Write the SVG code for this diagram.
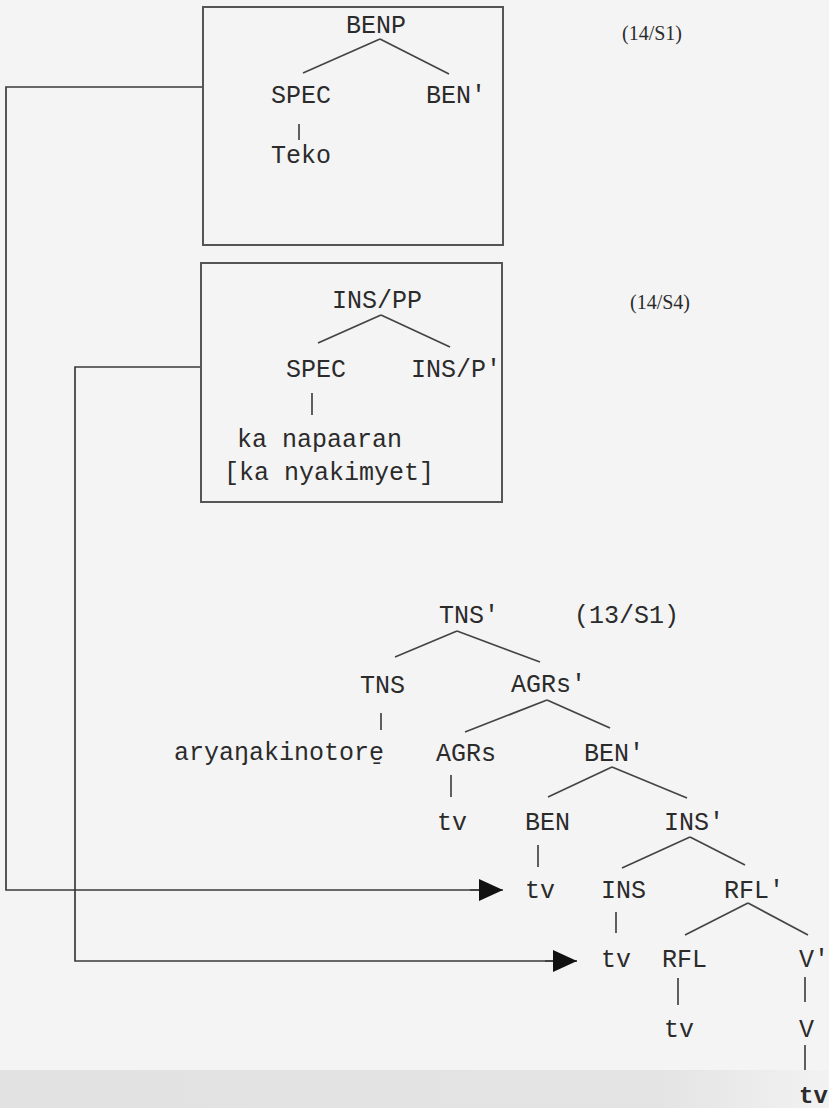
<svg xmlns="http://www.w3.org/2000/svg" width="829" height="1108" viewBox="0 0 829 1108">
<defs>
<style>
.t{font-family:"Liberation Mono","DejaVu Sans Mono",monospace;font-size:25px;fill:#2b2b2b}
.r{font-family:"Liberation Serif","DejaVu Serif",serif;font-size:20px;fill:#2b2b2b}
.box{fill:none;stroke:#555;stroke-width:2}
.ln{fill:none;stroke:#444;stroke-width:1.7}
.cn{fill:none;stroke:#3a3a3a;stroke-width:1.7}
</style>
<marker id="ah" markerUnits="userSpaceOnUse" markerWidth="24" markerHeight="22" refX="24" refY="11" orient="auto">
<path d="M0,0 L24,11 L0,22 Z" fill="#111"/>
</marker>
<linearGradient id="band" x1="0" y1="0" x2="1" y2="0">
<stop offset="0" stop-color="#e2e2e2"/>
<stop offset="0.8" stop-color="#e4e4e4"/>
<stop offset="1" stop-color="#f2f2f2"/>
</linearGradient>
</defs>
<rect x="0" y="0" width="829" height="1108" fill="#f4f4f4"/>
<rect x="0" y="1070" width="829" height="38" fill="url(#band)"/>

<g id="connectors">
<polyline class="cn" points="203,87 6,87 6,890 479,890"/>
<line class="cn" x1="470" y1="890" x2="503" y2="890" marker-end="url(#ah)"/>
<polyline class="cn" points="201,367 75,367 75,961 553,961"/>
<line class="cn" x1="545" y1="961" x2="577" y2="961" marker-end="url(#ah)"/>
</g>

<g id="benp-box">
<rect class="box" x="203" y="7" width="300" height="238"/>
<text class="t" x="346" y="33">BENP</text>
<line class="ln" x1="380" y1="39" x2="303" y2="73"/>
<line class="ln" x1="380" y1="39" x2="449" y2="74"/>
<text class="t" x="271" y="103">SPEC</text>
<text class="t" x="426" y="103">BEN'</text>
<line class="ln" x1="299" y1="124" x2="299" y2="140"/>
<text class="t" x="271" y="163">Teko</text>
</g>
<g id="label-14-s1"><text class="r" x="622" y="40">(14/S1)</text></g>

<g id="inspp-box">
<rect class="box" x="201" y="263" width="301" height="239"/>
<text class="t" x="332" y="308">INS/PP</text>
<line class="ln" x1="381" y1="315" x2="318" y2="343"/>
<line class="ln" x1="381" y1="315" x2="450" y2="347"/>
<text class="t" x="286" y="377">SPEC</text>
<text class="t" x="411" y="377">INS/P'</text>
<line class="ln" x1="312" y1="393" x2="312" y2="415"/>
<text class="t" x="237" y="447">ka napaaran</text>
<text class="t" x="224" y="480">[ka nyakimyet]</text>
</g>
<g id="label-14-s4"><text class="r" x="630" y="309">(14/S4)</text></g>

<g id="tree">
<text class="t" x="439" y="623">TNS'</text>
<text class="t" x="574" y="623">(13/S1)</text>
<line class="ln" x1="457" y1="631" x2="395" y2="657"/>
<line class="ln" x1="457" y1="631" x2="540" y2="662"/>
<text class="t" x="360" y="693">TNS</text>
<text class="t" x="511" y="692">AGRs'</text>
<line class="ln" x1="381" y1="713" x2="381" y2="730"/>
<line class="ln" x1="547" y1="700" x2="465" y2="732"/>
<line class="ln" x1="547" y1="700" x2="610" y2="728"/>
<text class="t" x="174" y="760">aryaŋakinotore̱</text>
<text class="t" x="436" y="761">AGRs</text>
<text class="t" x="584" y="761">BEN'</text>
<line class="ln" x1="451" y1="775" x2="451" y2="797"/>
<line class="ln" x1="612" y1="767" x2="548" y2="797"/>
<line class="ln" x1="612" y1="767" x2="687" y2="798"/>
<text class="t" x="437" y="830">tv</text>
<text class="t" x="525" y="830">BEN</text>
<text class="t" x="664" y="830">INS'</text>
<line class="ln" x1="538" y1="845" x2="538" y2="867"/>
<line class="ln" x1="690" y1="837" x2="622" y2="868"/>
<line class="ln" x1="690" y1="837" x2="745" y2="865"/>
<text class="t" x="525" y="898">tv</text>
<text class="t" x="601" y="898">INS</text>
<text class="t" x="724" y="898">RFL'</text>
<line class="ln" x1="616" y1="912" x2="616" y2="933"/>
<line class="ln" x1="748" y1="903" x2="685" y2="935"/>
<line class="ln" x1="748" y1="903" x2="808" y2="935"/>
<text class="t" x="601" y="967">tv</text>
<text class="t" x="662" y="967">RFL</text>
<text class="t" x="799" y="967">V'</text>
<line class="ln" x1="678" y1="978" x2="678" y2="1005"/>
<line class="ln" x1="805" y1="977" x2="805" y2="1002"/>
<text class="t" x="664" y="1037">tv</text>
<text class="t" x="799" y="1037">V</text>
<line class="ln" x1="805" y1="1045" x2="805" y2="1070"/>
<text class="t" x="799" y="1103" style="font-size:24px;font-weight:bold">tv</text>
</g>
</svg>
